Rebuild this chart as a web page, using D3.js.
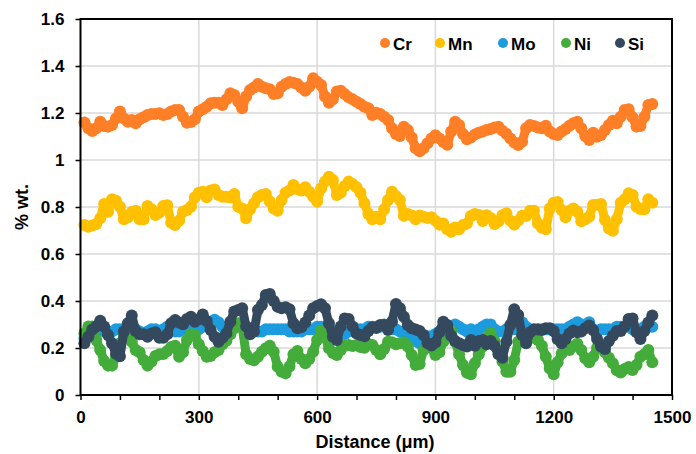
<!DOCTYPE html>
<html>
<head>
<meta charset="utf-8">
<script src="https://cdn.jsdelivr.net/npm/d3@7"></script>
<style>
  html, body { margin: 0; padding: 0; background: #ffffff; }
  svg { display: block; }
  text { font-family: "Liberation Sans", Arial, sans-serif; font-weight: bold; fill: #000; }
</style>
</head>
<body>
<svg id="chart" width="696" height="454"></svg>
<script>
// ---------------- DATA ----------------
const seriesNames = ["Cr", "Mn", "Mo", "Ni", "Si"];
const seriesColors = ["#FF7F27", "#FFC000", "#1C9CDE", "#43AC3A", "#34495E"];

const distance = [
  10,20,30,40,50,60,70,80,90,100,110,120,130,140,150,160,170,180,190,200,
  210,220,230,240,250,260,270,280,290,300,310,320,330,340,350,360,370,380,390,400,
  410,420,430,440,450,460,470,480,490,500,510,520,530,540,550,560,570,580,590,600,
  610,620,630,640,650,660,670,680,690,700,710,720,730,740,750,760,770,780,790,800,
  810,820,830,840,850,860,870,880,890,900,910,920,930,940,950,960,970,980,990,1000,
  1010,1020,1030,1040,1050,1060,1070,1080,1090,1100,1110,1120,1130,1140,1150,1160,1170,1180,1190,1200,
  1210,1220,1230,1240,1250,1260,1270,1280,1290,1300,1310,1320,1330,1340,1350,1360,1370,1380,1390,1400,
  1410,1420,1430,1440,1450
];

const cr = [
  1.160,1.135,1.123,1.135,1.163,1.145,1.142,1.149,1.177,1.206,
  1.177,1.163,1.170,1.156,1.173,1.182,1.191,1.196,1.196,1.199,
  1.191,1.196,1.206,1.213,1.213,1.184,1.159,1.162,1.173,1.206,
  1.216,1.227,1.241,1.244,1.244,1.234,1.258,1.284,1.277,1.248,
  1.220,1.270,1.298,1.309,1.323,1.312,1.305,1.301,1.281,1.284,
  1.312,1.323,1.332,1.329,1.323,1.309,1.295,1.312,1.348,1.333,
  1.319,1.270,1.244,1.258,1.291,1.295,1.281,1.267,1.258,1.248,
  1.238,1.227,1.220,1.191,
  1.201,1.196,1.184,1.170,1.135,1.111,1.102,1.142,1.128,1.096,
  1.050,1.037,1.050,1.071,1.092,1.105,1.092,1.077,1.065,1.121,
  1.163,1.149,1.111,1.088,1.096,1.108,1.116,1.121,1.128,1.132,
  1.138,1.142,1.125,1.111,1.092,1.074,1.064,1.078,1.135,1.149,
  1.145,1.138,1.135,1.146,1.121,1.111,1.106,1.121,1.132,1.146,
  1.156,1.163,1.135,1.102,1.085,1.116,1.099,1.106,1.128,1.149,
  1.167,1.156,1.184,1.213,1.216,1.182,1.142,1.145,1.184,1.234,
  1.238
];

const mn = [
  0.723,0.716,0.721,0.728,0.752,0.813,0.780,0.833,0.827,0.801,
  0.748,0.756,0.779,0.784,0.748,0.748,0.804,0.790,0.766,0.776,
  0.804,0.807,0.733,0.723,0.742,0.780,0.787,0.801,0.841,0.861,
  0.865,0.841,0.870,0.875,0.851,0.844,0.844,0.840,0.855,0.801,
  0.794,0.752,0.790,0.816,0.841,0.851,0.855,0.823,0.794,0.784,
  0.830,0.861,0.870,0.894,0.875,0.870,0.884,0.865,0.844,0.823,
  0.879,0.908,0.929,0.915,0.851,0.861,0.889,0.908,0.898,0.884,
  0.861,0.816,0.770,0.748,
  0.759,0.748,0.790,0.830,0.865,0.847,0.830,0.763,0.770,0.764,
  0.748,0.764,0.759,0.753,0.756,0.742,0.725,0.730,0.705,0.695,
  0.713,0.705,0.723,0.730,0.762,0.770,0.766,0.740,0.765,0.753,
  0.728,0.738,0.765,0.773,0.742,0.725,0.742,0.763,0.762,0.784,
  0.784,0.730,0.712,0.705,0.794,0.818,0.821,0.787,0.756,0.784,
  0.794,0.780,0.739,0.748,0.759,0.809,0.810,0.813,0.745,0.709,
  0.699,0.748,0.818,0.833,0.858,0.851,0.801,0.791,0.790,0.833,
  0.818
];

const mo = [
  0.24,0.25,0.26,0.27,0.28,0.27,0.26,0.27,0.28,0.28,
  0.28,0.27,0.27,0.28,0.27,0.26,0.27,0.28,0.28,0.27,
  0.28,0.29,0.28,0.27,0.27,0.28,0.29,0.29,0.28,0.28,
  0.29,0.30,0.31,0.32,0.31,0.29,0.28,0.28,0.29,0.30,
  0.29,0.28,0.28,0.28,0.27,0.27,0.28,0.28,0.28,0.28,
  0.28,0.28,0.27,0.27,0.27,0.27,0.28,0.28,0.28,0.29,
  0.29,0.28,0.28,0.27,0.26,0.26,0.26,0.27,0.28,0.28,
  0.28,0.28,0.29,0.29,0.29,0.29,0.30,0.29,0.28,0.28,
  0.27,0.27,0.26,0.25,0.23,0.22,0.23,0.25,0.25,0.26,
  0.27,0.27,0.28,0.29,0.30,0.29,0.28,0.27,0.28,
  0.27,0.28,0.29,0.30,0.30,0.28,0.27,0.27,0.28,0.28,
  0.28,0.29,0.31,0.29,0.28,0.28,0.28,0.28,0.28,0.28,
  0.28,0.28,0.28,0.28,0.29,0.30,0.31,0.30,0.30,0.31,
  0.28,0.27,0.28,0.28,0.28,0.28,0.29,0.29,0.29,0.29,
  0.28,0.28,0.28,0.29,0.30,0.29
];

const ni = [
  0.262,0.291,0.291,0.234,0.191,0.145,0.125,0.125,0.163,0.220,
  0.248,0.251,0.227,0.191,0.182,0.149,0.125,0.142,0.166,0.173,
  0.174,0.187,0.204,0.210,0.163,0.182,0.234,0.258,0.255,0.216,
  0.187,0.163,0.166,0.182,0.191,0.216,0.231,0.258,0.284,0.305,
  0.291,0.173,0.153,0.148,0.163,0.184,0.199,0.210,0.184,0.120,
  0.099,0.092,0.121,0.173,0.187,0.153,0.135,0.153,0.184,0.234,
  0.274,0.248,0.199,0.179,0.170,0.191,0.210,0.213,0.208,0.213,
  0.204,0.201,0.217,0.213,0.191,0.173,0.196,0.227,0.224,0.216,
  0.220,0.224,0.206,0.170,0.128,0.132,0.191,0.220,0.199,0.170,
  0.182,0.227,0.267,0.272,0.227,0.173,0.128,0.095,0.088,
  0.135,0.173,0.206,0.244,0.265,0.230,0.184,0.142,0.099,0.099,
  0.149,0.227,0.252,0.258,0.260,0.244,0.234,0.210,0.163,0.113,
  0.088,0.139,0.177,0.199,0.191,0.207,0.218,0.191,0.156,0.139,
  0.163,0.201,0.201,0.182,0.159,0.135,0.105,0.096,0.111,0.119,
  0.106,0.128,0.163,0.173,0.191,0.139
];

const si = [
  0.220,0.248,0.279,0.291,0.316,0.291,0.255,0.220,0.175,0.165,
  0.270,0.305,0.338,0.272,0.258,0.258,0.248,0.262,0.267,0.244,
  0.244,0.258,0.305,0.319,0.308,0.301,0.323,0.333,0.312,0.322,
  0.343,0.315,0.277,0.248,0.227,0.244,0.262,0.312,0.355,0.362,
  0.369,0.291,0.258,0.270,0.362,0.383,0.426,0.430,0.400,0.375,
  0.369,0.373,0.365,0.305,0.284,0.288,0.309,0.338,0.369,0.379,
  0.386,0.369,0.305,0.248,0.234,0.291,0.326,0.323,0.291,0.262,
  0.255,0.250,0.272,0.288,0.285,0.298,0.298,0.277,0.312,0.387,
  0.369,0.333,0.298,0.284,0.279,0.272,0.255,0.220,0.211,0.223,
  0.267,0.312,0.298,0.252,0.230,0.220,0.213,0.206,0.234,
  0.210,0.230,0.234,0.216,0.230,0.210,0.173,0.159,0.227,0.298,
  0.365,0.340,0.255,0.220,0.267,0.279,0.279,0.277,0.284,0.284,
  0.272,0.237,0.220,0.238,0.262,0.275,0.267,0.270,0.284,0.296,
  0.277,0.238,0.206,0.196,0.230,0.252,0.272,0.272,0.291,0.323,
  0.326,0.267,0.238,0.272,0.309,0.338
];

const xTickValues = [0,100,200,300,400,500,600,700,800,900,1000,1100,1200,1300,1400,1500];
const xTickLabels = ["0","","","300","","","600","","","900","","","1200","","","1500"];
const yTickValues = [0,0.2,0.4,0.6,0.8,1.0,1.2,1.4,1.6];
const yTickLabels = ["0","0.2","0.4","0.6","0.8","1","1.2","1.4","1.6"];
const xGrid = [300,600,900,1200];
const yGrid = [0.2,0.4,0.6,0.8,1.0,1.2,1.4];
const xTitle = "Distance (\u03bcm)";
const yTitle = "% wt.";

// ---------------- DRAW ----------------
const svg = d3.select("#chart");
const L = 80.5, R = 672, T = 19, B = 395;
const x = d3.scaleLinear().domain([0, 1500]).range([L, R]);
const y = d3.scaleLinear().domain([0, 1.6]).range([B, T]);

// grid
const grid = svg.append("g");
grid.selectAll("line.gx").data(xGrid).join("line")
  .attr("x1", d => x(d)).attr("x2", d => x(d)).attr("y1", T).attr("y2", B)
  .attr("stroke", "#d9d9d9").attr("stroke-width", 1.5);
grid.selectAll("line.gy").data(yGrid).join("line")
  .attr("y1", d => y(d)).attr("y2", d => y(d)).attr("x1", L).attr("x2", R)
  .attr("stroke", "#d9d9d9").attr("stroke-width", 1.5);

// series
const allSeries = [cr, mn, mo, ni, si];
allSeries.forEach((vals, i) => {
  const pts = distance.map((d, j) => [d, vals[j]]);
  const g = svg.append("g");
  g.append("path")
    .attr("d", d3.line().x(p => x(p[0])).y(p => y(p[1]))(pts))
    .attr("fill", "none").attr("stroke", seriesColors[i]).attr("stroke-width", 9)
    .attr("stroke-linejoin", "round").attr("stroke-linecap", "round");
  g.selectAll("circle").data(pts).join("circle")
    .attr("cx", p => x(p[0])).attr("cy", p => y(p[1])).attr("r", 6)
    .attr("fill", seriesColors[i]);
});

// frame
svg.append("rect").attr("x", L).attr("y", T).attr("width", R - L).attr("height", B - T)
  .attr("fill", "none").attr("stroke", "#000").attr("stroke-width", 2);

// axes
const xAxis = d3.axisBottom(x).tickValues(xTickValues).tickSize(5).tickPadding(11)
  .tickFormat((d, i) => xTickLabels[i]);
const gx = svg.append("g").attr("transform", `translate(0,${B})`).call(xAxis);
gx.select(".domain").remove();
gx.selectAll(".tick line").attr("stroke", "#000").attr("stroke-width", 1.5);
gx.selectAll("text").attr("font-size", 17).attr("font-family", "Liberation Sans, Arial, sans-serif")
  .attr("font-weight", "bold").attr("fill", "#000");

const yAxis = d3.axisLeft(y).tickValues(yTickValues).tickSize(5).tickPadding(11)
  .tickFormat((d, i) => yTickLabels[i]);
const gy = svg.append("g").attr("transform", `translate(${L},0)`).call(yAxis);
gy.select(".domain").remove();
gy.selectAll(".tick line").attr("stroke", "#000").attr("stroke-width", 1.5);
gy.selectAll("text").attr("font-size", 17).attr("font-family", "Liberation Sans, Arial, sans-serif")
  .attr("font-weight", "bold").attr("fill", "#000");

// titles
svg.append("text").attr("x", 375).attr("y", 448).attr("text-anchor", "middle")
  .attr("font-size", 18).text(xTitle);
svg.append("text").attr("transform", "translate(28,207) rotate(-90)").attr("text-anchor", "middle")
  .attr("font-size", 18).text(yTitle);

// legend
const legendX = [385, 440, 503, 566, 620];
seriesNames.forEach((name, i) => {
  svg.append("circle").attr("cx", legendX[i]).attr("cy", 43).attr("r", 5).attr("fill", seriesColors[i]);
  svg.append("text").attr("x", legendX[i] + 8).attr("y", 49.5).attr("font-size", 17).text(name);
});
</script>
</body>
</html>
